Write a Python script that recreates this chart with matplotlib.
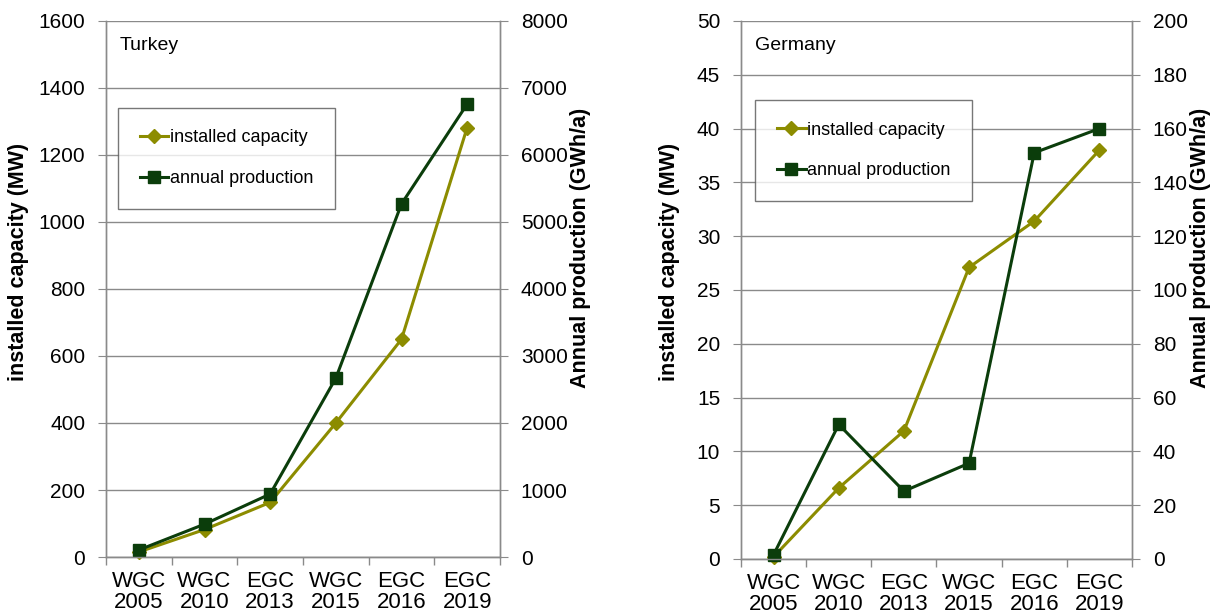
import numpy as np
import matplotlib.pyplot as plt

plt.rcParams['font.family'] = ['Liberation Sans', 'DejaVu Sans']

# data
events = ["WGC\n2005", "WGC\n2010", "EGC\n2013", "WGC\n2015", "EGC\n2016", "EGC\n2019"]

turkey_capacity = [15, 82, 163, 400, 650, 1282]         # MW
turkey_production = [105, 490, 940, 2670, 5270, 6760]  # GWh/a

germany_capacity = [0.2, 6.6, 11.9, 27.1, 31.4, 38.0]     # MW
germany_production = [1.6, 50, 25.2, 35.6, 151, 160]      # GWh/a

cap_color = "#8c8c00"
prod_color = "#0b3d0b"
grid_color = "#8a8a8a"


def panel(rect, name, cap, prod, cap_max, cap_step, prod_max, prod_step,
          leg_pos, lab_left, lab_right):
    ax = fig.add_axes(rect)
    ax2 = ax.twinx()
    x = np.arange(len(events)) + 0.5

    l1, = ax.plot(x, cap, color=cap_color, lw=2.2, marker="D", ms=7,
                  label="installed capacity", clip_on=False)
    l2, = ax2.plot(x, prod, color=prod_color, lw=2.2, marker="s", ms=8.5,
                   label="annual production", clip_on=False)
    ax.set_zorder(1)
    ax2.set_zorder(2)
    ax2.patch.set_visible(False)

    ax.set_xlim(0, len(events))
    ax.set_ylim(0, cap_max)
    ax2.set_ylim(0, prod_max)
    ax.set_yticks(np.arange(0, cap_max + cap_step / 2, cap_step))
    ax2.set_yticks(np.arange(0, prod_max + prod_step / 2, prod_step))

    ax.set_xticks(np.arange(len(events) + 1))
    ax.set_xticklabels([])
    ax.set_xticks(x, minor=True)
    ax.set_xticklabels(events, minor=True, fontsize=16, linespacing=1.0)
    ax.tick_params(axis="x", which="minor", length=0, pad=10)
    ax.tick_params(axis="x", which="major", length=6, color=grid_color, width=1)

    ax.tick_params(axis="y", labelsize=15, length=6, color=grid_color, pad=9)
    ax2.tick_params(axis="y", labelsize=15, length=6, color=grid_color, pad=9)

    ax.yaxis.grid(True, color=grid_color, lw=1)
    ax.set_axisbelow(True)

    for a in (ax, ax2):
        for s in a.spines.values():
            s.set_color(grid_color)
            s.set_linewidth(1)
        a.spines["top"].set_visible(False)

    ax.set_ylabel("installed capacity (MW)", fontsize=15.5, fontweight="bold")
    ax2.set_ylabel("Annual production (GWh/a)", fontsize=15.5, fontweight="bold")
    ax.yaxis.set_label_coords(*lab_left)
    ax2.yaxis.set_label_coords(*lab_right)
    ax.yaxis.label.set_va("center")
    ax2.yaxis.label.set_va("center")

    ax.text(0.035, 0.97, name, transform=ax.transAxes, fontsize=14, va="top", ha="left")

    leg = ax.legend(handles=[l1, l2], loc="upper left", bbox_to_anchor=leg_pos,
                    fontsize=13, frameon=True, fancybox=False, borderpad=1.2,
                    labelspacing=1.3, handlelength=1.6, handletextpad=0.1,
                    borderaxespad=0)
    leg.get_frame().set_edgecolor("#555555")
    leg.get_frame().set_linewidth(1)
    return ax, ax2


fig = plt.figure(figsize=(12.13, 6.15), dpi=100)

panel([0.0874, 0.0943, 0.3248, 0.8716], "Turkey", turkey_capacity, turkey_production,
      1600, 200, 8000, 1000, (0.03, 0.838), (-0.223, 0.55), (1.205, 0.576))
panel([0.6109, 0.0911, 0.3223, 0.8748], "Germany", germany_capacity, germany_production,
      50, 5, 200, 20, (0.036, 0.853), (-0.184, 0.552), (1.176, 0.578))

fig.savefig("out.png", dpi=100)
